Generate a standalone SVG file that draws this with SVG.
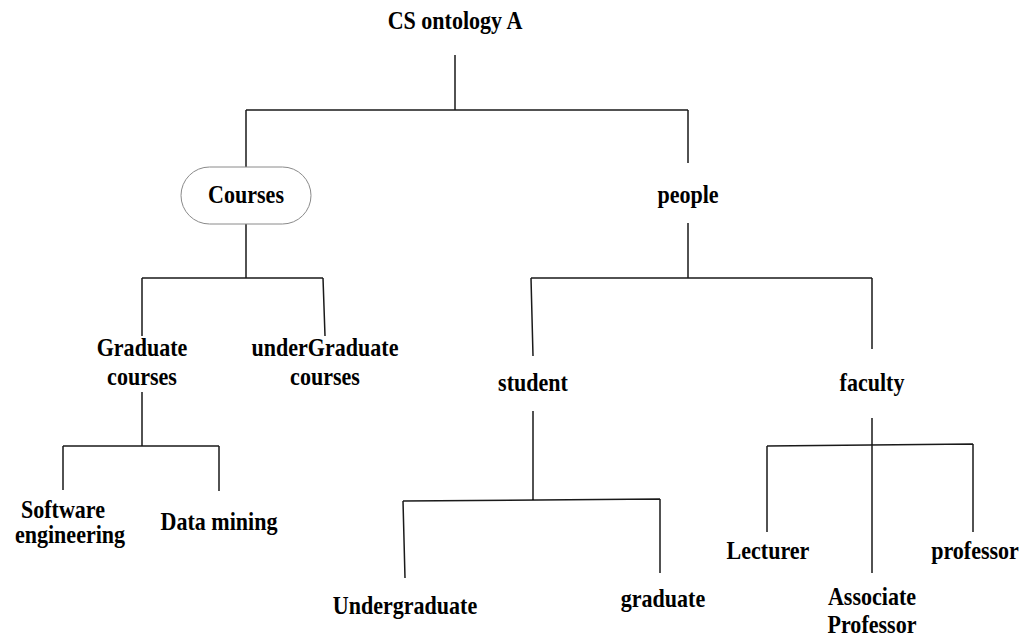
<svg xmlns="http://www.w3.org/2000/svg" width="1022" height="639" viewBox="0 0 1022 639">
<style>
.t{font-family:"Liberation Serif","Times New Roman",serif;font-weight:bold;font-size:24.5px;fill:#000;text-anchor:middle}
.c{fill:none;stroke:#1a1a1a;stroke-width:1.5}
.box{fill:#fff;stroke:#8a8a8a;stroke-width:1}
</style>
<rect width="1022" height="639" fill="#fff"/>
<g id="connectors" class="c">
<path d="M455,55V110M246,110H688M246,110V167M688,110V163"/>
<path d="M246,224V278M142,278H323M142,278V336M323,278L325,336"/>
<path d="M142,392V446M63,446H219M63,446V490M219,446V491"/>
<path d="M688,223V278M531,278H872M531,278L533,356M872,278V349"/>
<path d="M533,411V500M403,501L660,499M403,501L405,578M660,499V573"/>
<path d="M872,418V573M767,446L973,444M767,446V532M973,444V532"/>
</g>
<g id="root"><text class="t" transform="translate(455 29) scale(0.9 1)">CS ontology A</text></g>
<g id="courses"><rect class="box" x="181" y="167" width="130" height="57" rx="28.5"/><text class="t" transform="translate(246 203) scale(0.9 1)">Courses</text></g>
<g id="people"><text class="t" transform="translate(688 203) scale(0.9 1)">people</text></g>
<g id="graduate-courses"><text class="t" transform="translate(142 356) scale(0.9 1)">Graduate</text><text class="t" transform="translate(142 385) scale(0.9 1)">courses</text></g>
<g id="undergraduate-courses"><text class="t" transform="translate(325 356) scale(0.9 1)">underGraduate</text><text class="t" transform="translate(325 385) scale(0.9 1)">courses</text></g>
<g id="software-engineering"><text class="t" transform="translate(63 518) scale(0.9 1)">Software</text><text class="t" transform="translate(70 543) scale(0.9 1)">engineering</text></g>
<g id="data-mining"><text class="t" transform="translate(219 530) scale(0.9 1)">Data mining</text></g>
<g id="student"><text class="t" transform="translate(533 391) scale(0.9 1)">student</text></g>
<g id="faculty"><text class="t" transform="translate(872 391) scale(0.9 1)">faculty</text></g>
<g id="undergraduate"><text class="t" transform="translate(405 614) scale(0.9 1)">Undergraduate</text></g>
<g id="graduate"><text class="t" transform="translate(663 607) scale(0.9 1)">graduate</text></g>
<g id="lecturer"><text class="t" transform="translate(768 559) scale(0.9 1)">Lecturer</text></g>
<g id="professor"><text class="t" transform="translate(975 559) scale(0.9 1)">professor</text></g>
<g id="associate-professor"><text class="t" transform="translate(872 605) scale(0.9 1)">Associate</text><text class="t" transform="translate(872 633) scale(0.9 1)">Professor</text></g>
</svg>
